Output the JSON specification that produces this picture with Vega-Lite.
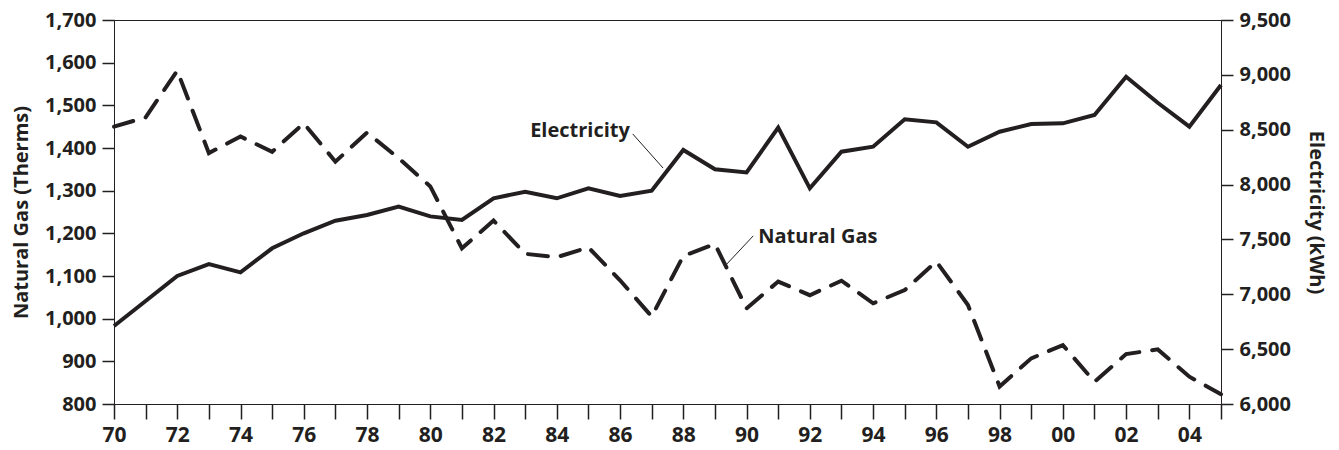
{
  "$schema": "https://vega.github.io/schema/vega-lite/v6.json",
  "width": 1107,
  "height": 384,
  "autosize": "none",
  "padding": {"left": 114, "top": 20, "right": 118, "bottom": 46},
  "background": "white",
  "config": {
    "view": {"stroke": "#231f20", "strokeWidth": 1},
    "axis": {
      "grid": false,
      "domainColor": "#231f20",
      "labelColor": "#231f20",
      "titleColor": "#231f20",
      "labelFont": "Open Sans",
      "titleFont": "Open Sans",
      "labelFontWeight": "bold",
      "titleFontWeight": "bold",
      "labelFontSize": 20,
      "titleFontSize": 20
    }
  },
  "datasets": {
    "series": [
      {"year": 1970, "gas": 1450, "elec": 6711},
      {"year": 1971, "gas": 1472, "elec": 6939},
      {"year": 1972, "gas": 1581, "elec": 7167},
      {"year": 1973, "gas": 1388, "elec": 7276},
      {"year": 1974, "gas": 1427, "elec": 7200},
      {"year": 1975, "gas": 1391, "elec": 7419},
      {"year": 1976, "gas": 1458, "elec": 7556},
      {"year": 1977, "gas": 1368, "elec": 7671},
      {"year": 1978, "gas": 1436, "elec": 7723},
      {"year": 1979, "gas": 1376, "elec": 7799},
      {"year": 1980, "gas": 1310, "elec": 7710},
      {"year": 1981, "gas": 1165, "elec": 7677},
      {"year": 1982, "gas": 1230, "elec": 7875},
      {"year": 1983, "gas": 1152, "elec": 7935},
      {"year": 1984, "gas": 1144, "elec": 7875},
      {"year": 1985, "gas": 1167, "elec": 7966},
      {"year": 1986, "gas": 1090, "elec": 7896},
      {"year": 1987, "gas": 1005, "elec": 7944},
      {"year": 1988, "gas": 1147, "elec": 8315},
      {"year": 1989, "gas": 1175, "elec": 8139},
      {"year": 1990, "gas": 1024, "elec": 8111},
      {"year": 1991, "gas": 1087, "elec": 8519},
      {"year": 1992, "gas": 1055, "elec": 7966},
      {"year": 1993, "gas": 1089, "elec": 8300},
      {"year": 1994, "gas": 1036, "elec": 8345},
      {"year": 1995, "gas": 1067, "elec": 8595},
      {"year": 1996, "gas": 1134, "elec": 8567},
      {"year": 1997, "gas": 1032, "elec": 8345},
      {"year": 1998, "gas": 841, "elec": 8482},
      {"year": 1999, "gas": 907, "elec": 8552},
      {"year": 2000, "gas": 938, "elec": 8558},
      {"year": 2001, "gas": 852, "elec": 8634},
      {"year": 2002, "gas": 917, "elec": 8983},
      {"year": 2003, "gas": 928, "elec": 8746},
      {"year": 2004, "gas": 864, "elec": 8528},
      {"year": 2005, "gas": 823, "elec": 8907}
    ],
    "notes": [
      {"label": "Electricity", "x": 1986.31, "y": 1425, "side": "right"},
      {"label": "Natural Gas", "x": 1990.37, "y": 1177, "side": "left"}
    ],
    "leaders": [
      {"x1": 1986.40, "y1": 1433, "x2": 1987.36, "y2": 1353},
      {"x1": 1990.21, "y1": 1194, "x2": 1989.35, "y2": 1126}
    ]
  },
  "layer": [
    {
      "data": {"name": "series"},
      "mark": {"type": "line", "color": "#231f20", "strokeWidth": 4, "strokeDash": [20, 13], "strokeCap": "round", "strokeJoin": "miter"},
      "encoding": {
        "x": {
          "field": "year", "type": "quantitative",
          "scale": {"domain": [1970, 2005], "nice": false, "zero": false},
          "axis": {
            "title": null,
            "ticks": true,
            "tickColor": "#231f20",
            "tickWidth": 1.5,
            "tickCount": 35,
            "labelExpr": "datum.value % 2 == 0 ? substring(toString(datum.value), 2, 4) : ''",
            "labelFlush": false,
            "labelOverlap": false,
            "labelBound": false,
            "tickSize": 15,
            "labelPadding": 5,
            "labelFontSize": 21
          }
        },
        "y": {
          "field": "gas", "type": "quantitative",
          "scale": {"domain": [800, 1700], "nice": false, "zero": false},
          "axis": {
            "orient": "left",
            "ticks": true,
            "tickColor": "#231f20",
            "tickWidth": 1.5,
            "tickCount": 9,
            "title": "Natural Gas (Therms)",
            "format": ",.0f",
            "tickSize": 12,
            "labelPadding": 6,
            "titlePadding": 13
          }
        }
      }
    },
    {
      "data": {"name": "series"},
      "mark": {"type": "line", "color": "#231f20", "strokeWidth": 4, "strokeJoin": "miter"},
      "encoding": {
        "x": {"field": "year", "type": "quantitative", "scale": {"domain": [1970, 2005], "nice": false, "zero": false}},
        "y": {
          "field": "elec", "type": "quantitative",
          "scale": {"domain": [6000, 9500], "nice": false, "zero": false},
          "axis": {
            "orient": "right",
            "ticks": true,
            "tickColor": "#231f20",
            "tickWidth": 1.5,
            "tickCount": 7,
            "title": "Electricity (kWh)",
            "format": ",.0f",
            "tickSize": 12,
            "labelPadding": 6,
            "titlePadding": 15
          }
        }
      }
    },
    {
      "data": {"name": "leaders"},
      "mark": {"type": "rule", "color": "#231f20", "strokeWidth": 1},
      "encoding": {
        "x": {"field": "x1", "type": "quantitative", "scale": {"domain": [1970, 2005], "nice": false, "zero": false}},
        "x2": {"field": "x2"},
        "y": {"field": "y1", "type": "quantitative", "scale": {"domain": [800, 1700], "nice": false, "zero": false}, "axis": null},
        "y2": {"field": "y2"}
      }
    },
    {
      "data": {"name": "notes"},
      "transform": [{"filter": "datum.side == 'right'"}],
      "mark": {"type": "text", "align": "right", "color": "#231f20", "font": "Open Sans", "fontWeight": "bold", "fontSize": 20, "baseline": "alphabetic"},
      "encoding": {
        "x": {"field": "x", "type": "quantitative", "scale": {"domain": [1970, 2005], "nice": false, "zero": false}},
        "y": {"field": "y", "type": "quantitative", "scale": {"domain": [800, 1700], "nice": false, "zero": false}, "axis": null},
        "text": {"field": "label"}
      }
    },
    {
      "data": {"name": "notes"},
      "transform": [{"filter": "datum.side == 'left'"}],
      "mark": {"type": "text", "align": "left", "color": "#231f20", "font": "Open Sans", "fontWeight": "bold", "fontSize": 20, "baseline": "alphabetic"},
      "encoding": {
        "x": {"field": "x", "type": "quantitative", "scale": {"domain": [1970, 2005], "nice": false, "zero": false}},
        "y": {"field": "y", "type": "quantitative", "scale": {"domain": [800, 1700], "nice": false, "zero": false}, "axis": null},
        "text": {"field": "label"}
      }
    }
  ],
  "resolve": {"scale": {"y": "independent"}}
}
